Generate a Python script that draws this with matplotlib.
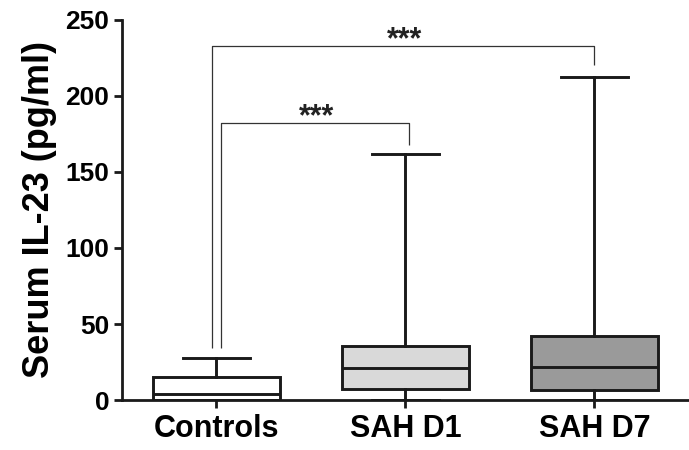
import numpy as np
import matplotlib
matplotlib.use("Agg")
import matplotlib.pyplot as plt

plt.rcParams["font.family"] = ["Liberation Sans", "DejaVu Sans"]
plt.rcParams["font.weight"] = "bold"

groups = ["Controls", "SAH D1", "SAH D7"]
whisker_low = [0, 0, 0]
q1 = [0, 7.2, 6.8]
median = [4.2, 21.0, 22.0]
q3 = [15.3, 35.8, 42.2]
whisker_high = [27.8, 161.8, 212.3]
box_colors = ["white", "#d9d9d9", "#9a9a9a"]

# significance brackets: (left x, right x, left leg bottom, right leg bottom, top, label)
brackets = [
    (1.023, 2.021, 34.3, 167.8, 182.4, "***"),
    (0.975, 3.0, 34.3, 220.4, 232.9, "***"),
]

stats = []
for i, g in enumerate(groups):
    stats.append({
        "label": g, "whislo": whisker_low[i], "q1": q1[i], "med": median[i],
        "q3": q3[i], "whishi": whisker_high[i],
    })

fig = plt.figure(figsize=(6.89, 4.5), dpi=100)
ax = fig.add_axes([0.177, 0.111, 0.823, 0.845])

edge = "#1a1a1a"
lw = 2.1
bp = ax.bxp(
    stats, positions=[1, 2, 3], widths=0.67, capwidths=0.35,
    showfliers=False, patch_artist=True,
    boxprops=dict(linewidth=lw, edgecolor=edge),
    medianprops=dict(linewidth=lw, color=edge),
    whiskerprops=dict(linewidth=lw, color=edge),
    capprops=dict(linewidth=lw, color=edge),
)
for patch, c in zip(bp["boxes"], box_colors):
    patch.set_facecolor(c)

for xl, xr, yl, yr, top, lab in brackets:
    ax.plot([xl, xl, xr, xr], [yl, top, top, yr], color="#333333", lw=0.9,
            solid_capstyle="butt", clip_on=False)
    ax.text((xl + xr) / 2 + 0.01, top - 1.8, lab, ha="center", va="baseline",
            fontsize=22, fontweight="bold", color="#222222")

ax.set_xlim(0.5, 3.5)
ax.set_ylim(0, 250)
ax.set_yticks([0, 50, 100, 150, 200, 250])
ax.set_xticks([1, 2, 3])
ax.set_xticklabels(groups, fontsize=22, fontweight="bold")
ax.tick_params(axis="y", labelsize=19, width=2, length=6, color=edge, pad=3)
ax.tick_params(axis="x", width=2, length=6, color=edge, pad=4)
for lab in ax.get_yticklabels():
    lab.set_fontweight("bold")

ax.spines["top"].set_visible(False)
ax.spines["right"].set_visible(False)
ax.spines["left"].set_linewidth(2)
ax.spines["bottom"].set_linewidth(2)
ax.spines["left"].set_color(edge)
ax.spines["bottom"].set_color(edge)

ax.set_ylabel("Serum IL-23 (pg/ml)", fontsize=26, fontweight="bold", labelpad=6)

fig.savefig("out.png", dpi=100)
